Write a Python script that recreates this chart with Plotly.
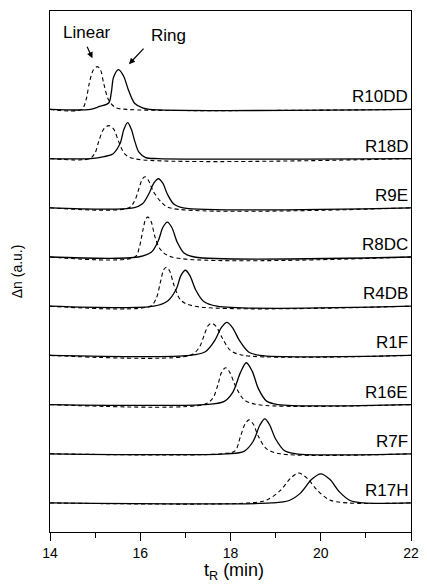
import plotly.graph_objects as go

samples = ["R10DD", "R18D", "R9E", "R8DC", "R4DB", "R1F", "R16E", "R7F", "R17H"]
offsets = [8, 7, 6, 5, 4, 3, 2, 1, 0]

# Ring (solid) traces: retention time (min) and signal (a.u.)
ring_t = {
    "R10DD": [14, 14.9, 15.1, 15.3, 15.36, 15.41, 15.52, 15.63, 15.74, 15.88, 16.05, 16.2, 22],
    "R18D": [14, 14.9, 15.2, 15.4, 15.55, 15.64, 15.72, 15.8, 15.88, 15.97, 16.12, 16.4, 22],
    "R9E": [14, 15.85, 16.05, 16.2, 16.3, 16.4, 16.5, 16.6, 16.75, 16.95, 22],
    "R8DC": [14, 15.95, 16.25, 16.4, 16.5, 16.6, 16.7, 16.82, 16.97, 17.2, 22],
    "R4DB": [14, 16.3, 16.6, 16.8, 16.9, 17.0, 17.1, 17.23, 17.4, 17.7, 22],
    "R1F": [14, 17.1, 17.45, 17.65, 17.8, 17.92, 18.04, 18.2, 18.4, 18.65, 22],
    "R16E": [14, 17.4, 17.85, 18.05, 18.22, 18.35, 18.48, 18.62, 18.8, 19.05, 22],
    "R7F": [14, 17.9, 18.3, 18.5, 18.65, 18.76, 18.86, 19.0, 19.2, 19.45, 22],
    "R17H": [14, 18.9, 19.3, 19.55, 19.8, 20.0, 20.2, 20.42, 20.65, 20.95, 22],
}
ring_s = {
    "R10DD": [0, 0, 0.06, 0.13, 0.35, 0.66, 0.81, 0.68, 0.39, 0.12, 0.03, 0, 0],
    "R18D": [0, 0, 0.04, 0.10, 0.30, 0.60, 0.73, 0.60, 0.35, 0.13, 0.02, 0, 0],
    "R9E": [0, 0, 0.08, 0.30, 0.50, 0.59, 0.50, 0.28, 0.07, 0, 0],
    "R8DC": [0, 0, 0.10, 0.33, 0.60, 0.71, 0.60, 0.30, 0.08, 0, 0],
    "R4DB": [0, 0, 0.10, 0.35, 0.62, 0.73, 0.62, 0.33, 0.10, 0, 0],
    "R1F": [0, 0, 0.08, 0.30, 0.57, 0.67, 0.57, 0.30, 0.07, 0, 0],
    "R16E": [0, 0, 0.06, 0.25, 0.65, 0.85, 0.68, 0.32, 0.07, 0, 0],
    "R7F": [0, 0, 0.05, 0.25, 0.58, 0.71, 0.60, 0.30, 0.06, 0, 0],
    "R17H": [0, 0, 0.05, 0.20, 0.48, 0.59, 0.48, 0.22, 0.05, 0, 0],
}

# Linear (dashed) traces
linear_t = {
    "R10DD": [14, 14.7, 14.8, 14.87, 14.96, 15.05, 15.12, 15.19, 15.3, 15.45, 15.7, 22],
    "R18D": [14, 14.88, 15.0, 15.08, 15.19, 15.30, 15.41, 15.52, 15.66, 15.85, 22],
    "R9E": [14, 15.75, 15.88, 15.99, 16.05, 16.11, 16.18, 16.28, 16.46, 16.65, 22],
    "R8DC": [14, 15.88, 15.98, 16.06, 16.12, 16.17, 16.24, 16.33, 16.45, 16.7, 22],
    "R4DB": [14, 16.22, 16.35, 16.45, 16.52, 16.58, 16.65, 16.75, 16.9, 17.2, 22],
    "R1F": [14, 17.1, 17.3, 17.42, 17.5, 17.58, 17.68, 17.82, 18.0, 18.3, 22],
    "R16E": [14, 17.4, 17.6, 17.72, 17.8, 17.89, 17.98, 18.12, 18.3, 18.6, 22],
    "R7F": [14, 17.8, 18.1, 18.22, 18.32, 18.41, 18.5, 18.62, 18.8, 19.1, 22],
    "R17H": [14, 18.4, 18.8, 19.1, 19.33, 19.51, 19.7, 19.93, 20.2, 20.6, 22],
}
linear_s = {
    "R10DD": [0, 0, 0.20, 0.53, 0.80, 0.87, 0.80, 0.53, 0.19, 0.04, 0, 0],
    "R18D": [0, 0, 0.12, 0.35, 0.60, 0.67, 0.60, 0.35, 0.09, 0, 0],
    "R9E": [0, 0, 0.15, 0.45, 0.59, 0.63, 0.56, 0.35, 0.12, 0, 0],
    "R8DC": [0, 0, 0.20, 0.55, 0.77, 0.81, 0.72, 0.40, 0.15, 0, 0],
    "R4DB": [0, 0, 0.15, 0.50, 0.74, 0.79, 0.72, 0.42, 0.12, 0, 0],
    "R1F": [0, 0, 0.15, 0.42, 0.60, 0.65, 0.59, 0.35, 0.10, 0, 0],
    "R16E": [0, 0, 0.12, 0.40, 0.65, 0.75, 0.66, 0.36, 0.10, 0, 0],
    "R7F": [0, 0, 0.06, 0.35, 0.60, 0.69, 0.61, 0.35, 0.10, 0, 0],
    "R17H": [0, 0, 0.06, 0.25, 0.50, 0.61, 0.50, 0.25, 0.06, 0, 0],
}

x_ticks = [14, 16, 18, 20, 22]
FONT = "Liberation Sans, Arial, sans-serif"

fig = go.Figure()
for name, off in zip(samples, offsets):
    fig.add_trace(go.Scatter(
        x=linear_t[name], y=[v + off for v in linear_s[name]], mode="lines",
        line=dict(color="black", width=1.1, dash="4px,3px", shape="spline", smoothing=0.9),
        showlegend=False, hoverinfo="skip"))
    fig.add_trace(go.Scatter(
        x=ring_t[name], y=[v + off for v in ring_s[name]], mode="lines",
        line=dict(color="black", width=1.3, shape="spline", smoothing=0.9),
        showlegend=False, hoverinfo="skip"))
    fig.add_annotation(x=21.97, y=off + 0.02, text=name, showarrow=False,
                       xanchor="right", yanchor="bottom",
                       font=dict(family=FONT, size=17, color="black"))

# Linear / Ring labels and arrows
fig.add_annotation(x=14.81, y=9.57, text="Linear", showarrow=False,
                   font=dict(family=FONT, size=17, color="black"))
fig.add_annotation(x=16.62, y=9.50, text="Ring", showarrow=False,
                   font=dict(family=FONT, size=17, color="black"))
fig.add_annotation(x=14.94, y=9.04, text="", showarrow=True, ax=-6, ay=-13,
                   arrowhead=2, arrowsize=1, arrowwidth=1.2, arrowcolor="black")
fig.add_annotation(x=15.75, y=8.92, text="", showarrow=True, ax=16, ay=-17,
                   arrowhead=2, arrowsize=1, arrowwidth=1.2, arrowcolor="black")

# axis titles
fig.add_annotation(xref="paper", yref="paper", x=-0.092, y=0.5, text="Δn (a.u.)",
                   textangle=-90, showarrow=False, xanchor="center", yanchor="middle",
                   font=dict(family=FONT, size=14, color="black"))
fig.add_annotation(xref="paper", yref="paper", x=0.51, y=-0.076,
                   text="t<sub>R</sub> (min)", showarrow=False,
                   xanchor="center", yanchor="middle",
                   font=dict(family=FONT, size=18, color="black"))

fig.update_xaxes(range=[14, 22], tickvals=x_ticks, ticktext=[str(v) for v in x_ticks],
                 ticks="outside", ticklen=8, tickwidth=1.2, tickcolor="black",
                 minor=dict(dtick=1, ticks="outside", ticklen=5, tickwidth=1.2, tickcolor="black"),
                 showline=True, linecolor="black", linewidth=1.3, mirror=True,
                 showgrid=False, zeroline=False, ticklabeloverflow="allow",
                 tickfont=dict(family=FONT, size=14, color="black"))
fig.update_yaxes(range=[-0.59, 10.0], showticklabels=False, ticks="",
                 showline=True, linecolor="black", linewidth=1.3, mirror=True,
                 showgrid=False, zeroline=False)
fig.update_layout(width=427, height=585, margin=dict(l=50, r=8, t=11, b=53),
                  plot_bgcolor="white", paper_bgcolor="white",
                  font=dict(family=FONT, color="black"))

fig.write_html("out.html", config={"displayModeBar": False},
               post_script="document.body.style.margin='0';document.body.style.overflow='hidden';")
